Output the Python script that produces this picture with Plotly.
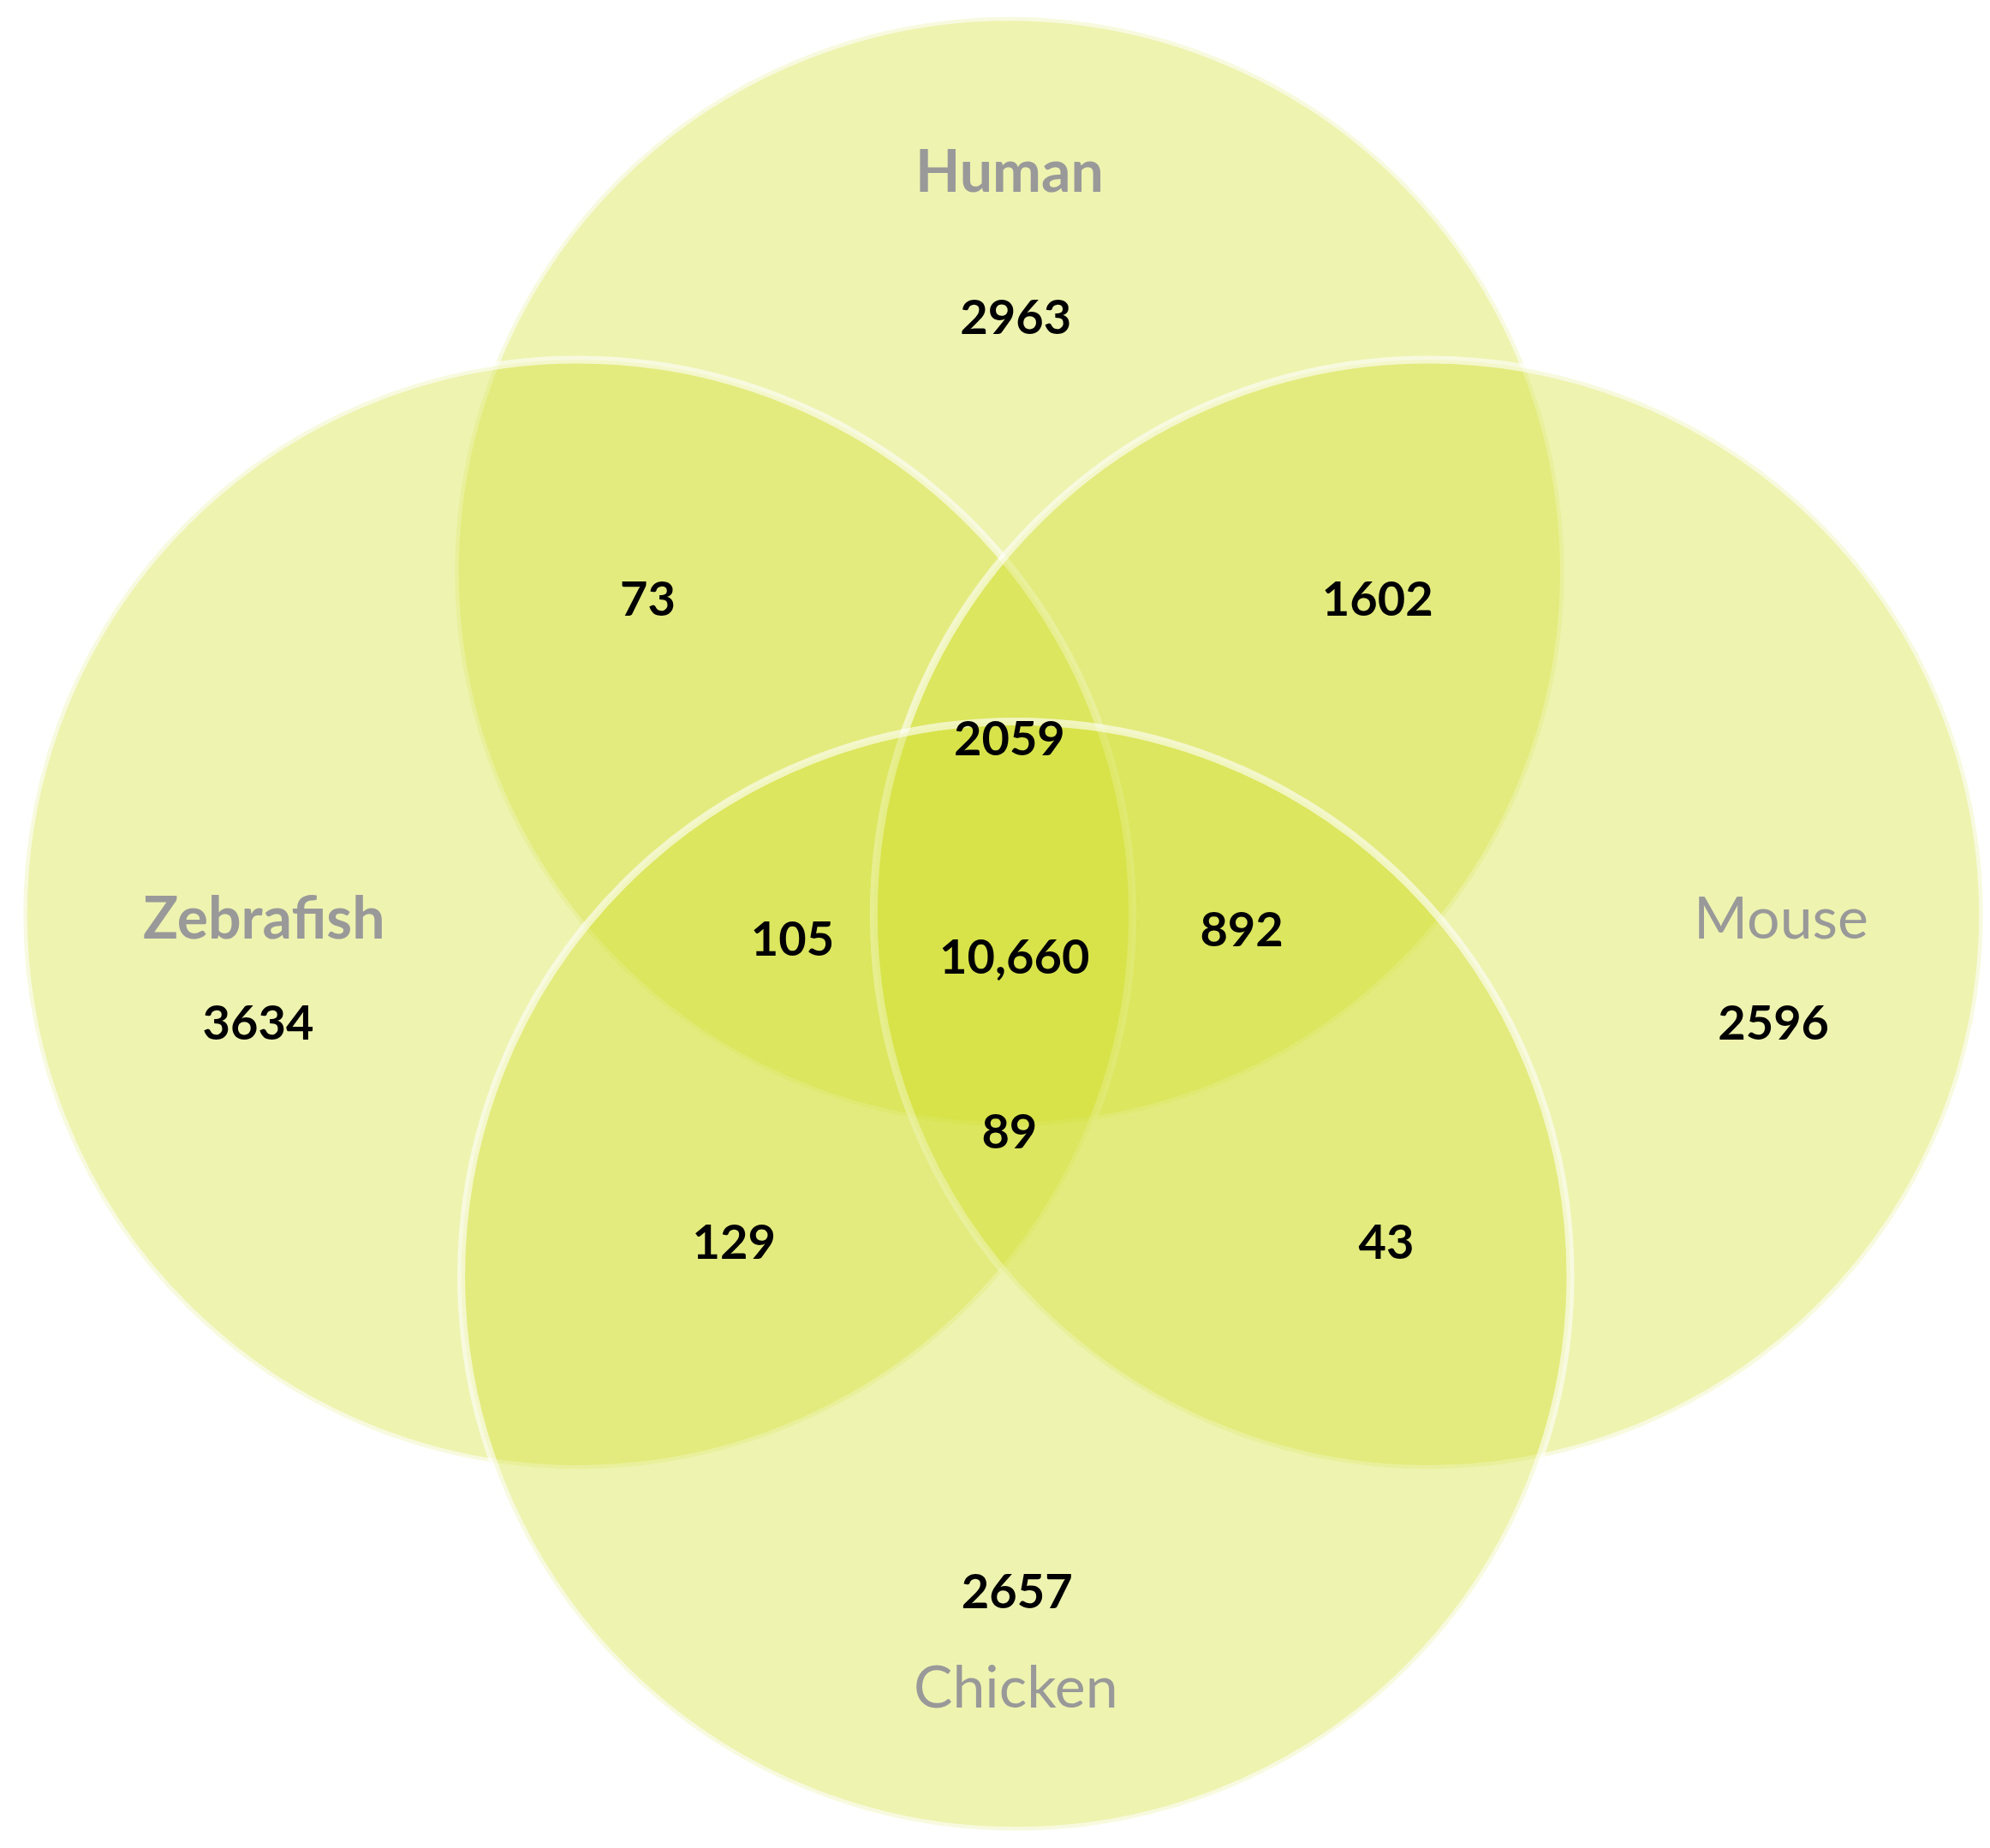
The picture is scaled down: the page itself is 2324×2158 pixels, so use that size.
import plotly.graph_objects as go

sets = ["Human", "Zebrafish", "Mouse", "Chicken"]
centers_x = [790, 450, 1120, 795]
centers_y = [445, 715, 715, 1000]
radius = 437
label_x = [790, 203, 1398, 795]
label_y = [128, 716, 716, 1322]
label_bold = [True, True, False, False]

region_values = ["2963", "3634", "2596", "2657", "73", "1602", "2059", "105", "10,660", "892", "89", "129", "43"]
region_x = [795, 198, 1392, 796, 505, 1080, 790, 619, 794, 973, 790, 573, 1087]
region_y = [248, 804, 804, 1252, 470, 470, 580, 738, 752, 731, 890, 977, 977]

W, H = 1568, 1456
fig = go.Figure()
shapes = []
for cx, cy in zip(centers_x, centers_y):
    shapes.append(dict(type="circle", xref="x", yref="y", layer="below",
                       x0=cx - radius, x1=cx + radius, y0=cy - radius, y1=cy + radius,
                       fillcolor="rgba(210,222,40,0.37)",
                       line=dict(color="rgba(255,255,255,0.6)", width=9)))
fig.update_layout(shapes=shapes)

fig.add_trace(go.Scatter(x=region_x, y=region_y, text=region_values, mode="text",
                         textfont=dict(family="Lato", size=56, color="#000000", weight="bold"),
                         hoverinfo="skip"))
for i, s in enumerate(sets):
    fig.add_annotation(x=label_x[i], y=label_y[i], text=s, showarrow=False,
                       font=dict(family="Lato", size=68, color="#999999",
                                 weight="bold" if label_bold[i] else "normal"))

fig.update_xaxes(range=[0, W], visible=False)
fig.update_yaxes(range=[H, 0], visible=False)
fig.update_layout(width=2324, height=2158, margin=dict(l=0, r=0, t=0, b=0),
                  plot_bgcolor="white", paper_bgcolor="white", showlegend=False)
fig.write_html("out.html")
